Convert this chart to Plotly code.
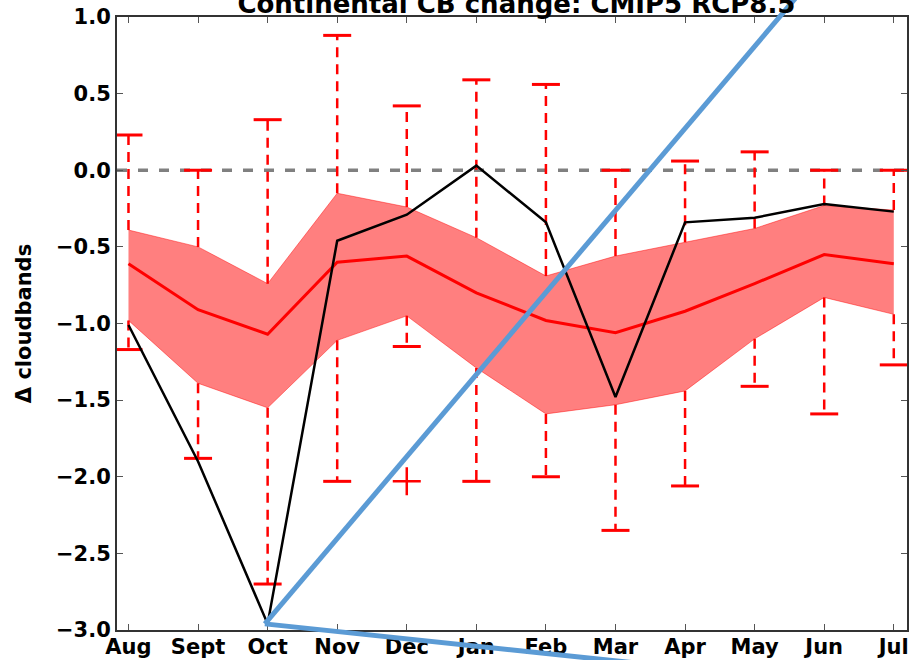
import plotly.graph_objects as go

# ---- data ----
months = ["Aug", "Sept", "Oct", "Nov", "Dec", "Jan", "Feb", "Mar", "Apr", "May", "Jun", "Jul"]
ens_mean = [-0.61, -0.91, -1.07, -0.60, -0.56, -0.80, -0.98, -1.06, -0.92, -0.74, -0.55, -0.61]
band_hi = [-0.39, -0.50, -0.74, -0.15, -0.24, -0.44, -0.69, -0.56, -0.47, -0.38, -0.23, -0.26]
band_lo = [-0.98, -1.39, -1.55, -1.11, -0.95, -1.29, -1.59, -1.53, -1.44, -1.10, -0.83, -0.94]
whisk_hi = [0.23, 0.00, 0.33, 0.88, 0.42, 0.59, 0.56, 0.00, 0.06, 0.12, 0.00, 0.00]
whisk_lo = [-1.17, -1.88, -2.70, -2.03, -1.15, -2.03, -2.00, -2.35, -2.06, -1.41, -1.59, -1.27]
obs = [-1.01, -1.90, -2.96, -0.46, -0.29, 0.03, -0.34, -1.48, -0.34, -0.31, -0.22, -0.27]
flier_month = ["Dec"]
flier_val = [-2.03]

title_text = "Continental CB change: CMIP5 RCP8.5"
ylabel = "Δ cloudbands"

X_RANGE = [-0.165, 11.19]
Y_RANGE = [-3.0, 1.0]

FONT = "DejaVu Sans"
RED = "#ff0000"

fig = go.Figure()

# whiskers (dashed) from band edge to caps
wx, wy = [], []
for m, bh, wh, bl, wl in zip(months, band_hi, whisk_hi, band_lo, whisk_lo):
    wx += [m, m, None, m, m, None]
    wy += [bh, wh, None, bl, wl, None]
fig.add_trace(go.Scatter(x=wx, y=wy, mode="lines",
                         line=dict(color=RED, width=2.5, dash="10px,7px"),
                         hoverinfo="skip", showlegend=False))

# caps
fig.add_trace(go.Scatter(x=months + months, y=whisk_hi + whisk_lo, mode="markers",
                         marker=dict(symbol="line-ew", size=20,
                                     line=dict(color=RED, width=3)),
                         showlegend=False))
# fliers
fig.add_trace(go.Scatter(x=flier_month, y=flier_val, mode="markers",
                         marker=dict(symbol="cross-thin", size=20,
                                     line=dict(color=RED, width=2.5)),
                         showlegend=False))

# band
fig.add_trace(go.Scatter(x=months, y=band_lo, mode="lines",
                         line=dict(color="rgba(255,0,0,0.45)", width=1),
                         showlegend=False))
fig.add_trace(go.Scatter(x=months, y=band_hi, mode="lines", fill="tonexty",
                         fillcolor="rgba(255,0,0,0.5)",
                         line=dict(color="rgba(255,0,0,0.45)", width=1),
                         showlegend=False))
# ensemble mean
fig.add_trace(go.Scatter(x=months, y=ens_mean, mode="lines",
                         line=dict(color=RED, width=3), showlegend=False))
# observations
fig.add_trace(go.Scatter(x=months, y=obs, mode="lines",
                         line=dict(color="black", width=2.5), showlegend=False))

# zero line
fig.add_shape(type="line", xref="paper", yref="y", x0=0, x1=1, y0=0, y1=0,
              line=dict(color="#808080", width=3.5, dash="10px,11px"), layer="below")

# blue overlay strokes, anchored at the Oct observation point
PLOT_W, PLOT_H = 790, 613
ix = months.index("Oct") - 0.04
sx = (ix - X_RANGE[0]) / (X_RANGE[1] - X_RANGE[0])
sy = (obs[months.index("Oct")] - Y_RANGE[0]) / (Y_RANGE[1] - Y_RANGE[0])
for dx, dy in [(528.6 * 1.1, -623.3 * 1.1), (348.3 * 1.4, 36.7 * 1.4)]:
    fig.add_shape(type="line", xref="paper", yref="paper",
                  x0=sx, y0=sy, x1=sx + dx / PLOT_W, y1=sy - dy / PLOT_H,
                  line=dict(color="#5b9bd5", width=5), layer="above")

axis_common = dict(showline=True, linecolor="#333333", linewidth=2, mirror="ticks",
                   ticks="inside", ticklen=6, tickwidth=1, tickcolor="#555555",
                   showgrid=False, zeroline=False, automargin=False,
                   tickfont=dict(family=FONT, size=21, color="black", weight="bold"))

fig.update_layout(
    width=914, height=660,
    margin=dict(l=117, r=7, t=17, b=30, autoexpand=False),
    paper_bgcolor="white", plot_bgcolor="white",
    title=dict(text=title_text, x=0.565, xanchor="center", xref="container",
               y=0.994, yanchor="middle", yref="container", automargin=False,
               font=dict(family=FONT, size=26, color="black", weight="bold")),
    xaxis=dict(type="category", range=X_RANGE, ticklabelstandoff=-3, **axis_common),
    yaxis=dict(range=Y_RANGE, tick0=0, dtick=0.5, tickformat=".1f",
               title=dict(text=ylabel, standoff=19,
                          font=dict(family=FONT, size=21, color="black", weight="bold")),
               **axis_common),
    showlegend=False,
)

fig.write_html("out.html", config={"displayModeBar": False},
               post_script="document.body.style.margin='0';document.body.style.overflow='hidden';")
